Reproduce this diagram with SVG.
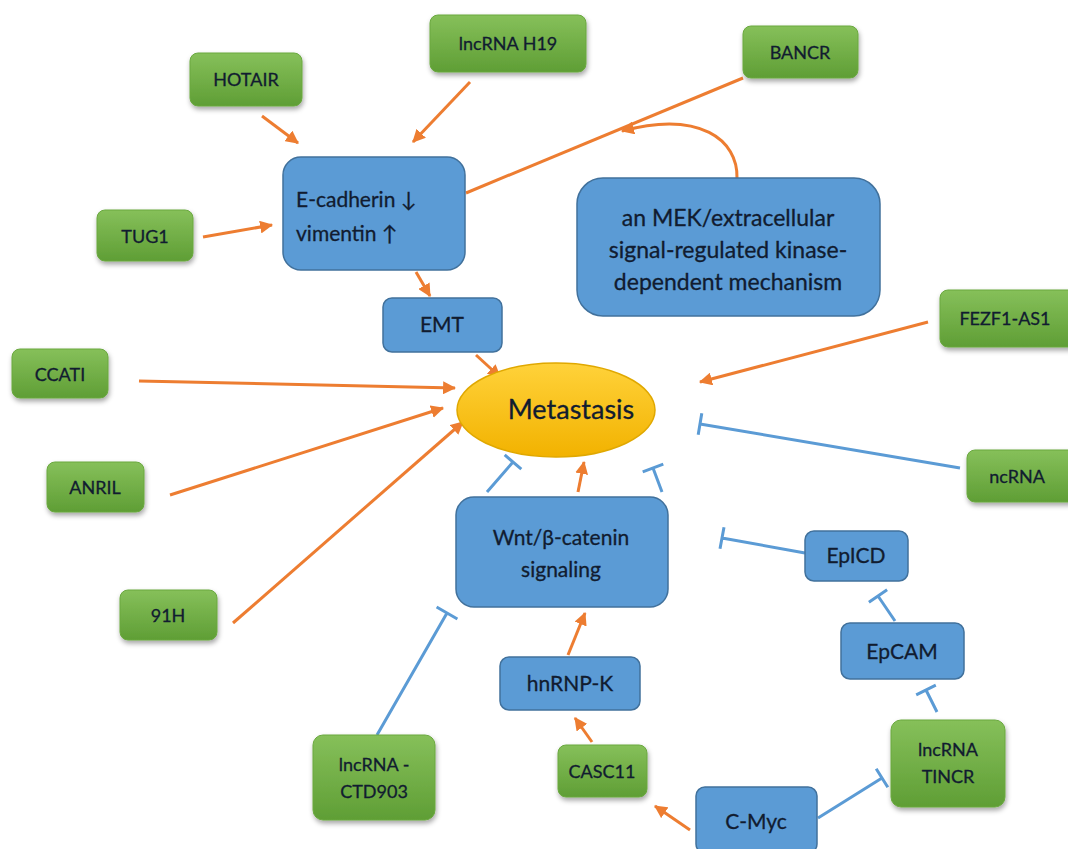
<svg xmlns="http://www.w3.org/2000/svg" width="1068" height="849" viewBox="0 0 1068 849">
<defs>
<linearGradient id="gG" x1="0" y1="0" x2="0" y2="1"><stop offset="0" stop-color="#86c05a"/><stop offset="1" stop-color="#5f9e35"/></linearGradient>
<linearGradient id="gY" x1="0" y1="0" x2="0" y2="1"><stop offset="0" stop-color="#ffd23a"/><stop offset="1" stop-color="#f2b200"/></linearGradient>
<filter id="sh" x="-20%" y="-20%" width="140%" height="150%"><feDropShadow dx="1" dy="3" stdDeviation="2.5" flood-color="#000" flood-opacity="0.35"/></filter>
<marker id="ar" viewBox="0 0 12 12" refX="11" refY="6" markerWidth="13" markerHeight="13" markerUnits="userSpaceOnUse" orient="auto"><path d="M0,0 L12,6 L0,12 z" fill="#ed7d31"/></marker>
<style>
.g{fill:url(#gG);stroke:#6aa83f;stroke-width:1;filter:url(#sh)}
.b{fill:#5b9bd5;stroke:#41719c;stroke-width:1.5}
.t{font-family:Lato,"Open Sans","Liberation Sans",sans-serif;fill:#111c30;text-anchor:middle;stroke:#111c30;stroke-width:0.3}
.tg{font-size:18px}
.tb{font-size:21px}
.tm{font-size:23px}
.o{stroke:#ed7d31;stroke-width:3;fill:none;marker-end:url(#ar)}
.ol{stroke:#ed7d31;stroke-width:3;fill:none}
.bl{stroke:#5b9bd5;stroke-width:3;fill:none}
</style>
</defs>
<rect width="1068" height="849" fill="#ffffff"/>
<g id="connectors">
<line class="o" x1="262" y1="116" x2="298" y2="143"/>
<line class="o" x1="470" y1="82" x2="413" y2="142"/>
<line class="o" x1="203" y1="237" x2="272" y2="225"/>
<line class="ol" x1="743" y1="78" x2="466" y2="193"/>
<path class="o" d="M737,178 C738,140 700,110 622,131"/>
<line class="o" x1="416" y1="272" x2="430" y2="296"/>
<line class="o" x1="476" y1="355" x2="500" y2="377"/>
<line class="o" x1="139" y1="381" x2="455" y2="388"/>
<line class="o" x1="170" y1="495" x2="443" y2="408"/>
<line class="o" x1="233" y1="623" x2="463" y2="422"/>
<line class="o" x1="928" y1="322" x2="700" y2="382"/>
<line class="o" x1="578" y1="492" x2="584" y2="462"/>
<line class="o" x1="568" y1="655" x2="585" y2="613"/>
<line class="o" x1="592" y1="742" x2="575" y2="718"/>
<line class="o" x1="690" y1="830" x2="655" y2="806"/>
<path class="bl" d="M960,468 L700,424 M701.8,413.2 L698.2,434.8"/>
<path class="bl" d="M487,492 L513,462 M504.7,454.8 L521.3,469.2"/>
<path class="bl" d="M662,492 L653,468 M642.7,471.9 L663.3,464.1"/>
<path class="bl" d="M805,553 L722,538 M724,527.2 L720,548.8"/>
<path class="bl" d="M895,621 L878,596 M887.1,589.8 L868.9,602.2"/>
<path class="bl" d="M937,712 L926,690 M935.8,685.1 L916.2,694.9"/>
<path class="bl" d="M818,818 L882,778 M887.8,787.3 L876.2,768.7"/>
<path class="bl" d="M377,735 L447,613 M457.4,619 L436.6,607"/>
</g>
<g id="HOTAIR"><rect class="g" x="190" y="53" width="112" height="53" rx="8"/><text class="t tg" x="246" y="86">HOTAIR</text></g>
<g id="lncRNA-H19"><rect class="g" x="430" y="15" width="156" height="57" rx="8"/><text class="t tg" x="508" y="50">lncRNA H19</text></g>
<g id="BANCR"><rect class="g" x="743" y="26" width="115" height="52" rx="8"/><text class="t tg" x="800" y="59">BANCR</text></g>
<g id="TUG1"><rect class="g" x="97" y="210" width="96" height="51" rx="8"/><text class="t tg" x="145" y="243">TUG1</text></g>
<g id="E-cadherin"><rect class="b" x="283" y="157" width="182" height="113" rx="18"/><text class="t tb" x="296" y="207" style="text-anchor:start">E-cadherin ↓</text><text class="t tb" x="296" y="241" style="text-anchor:start">vimentin ↑</text></g>
<g id="MEK"><rect class="b" x="577" y="178" width="303" height="138" rx="26"/><text class="t tm" x="728" y="226">an MEK/extracellular</text><text class="t tm" x="728" y="258">signal-regulated kinase-</text><text class="t tm" x="728" y="290">dependent mechanism</text></g>
<g id="FEZF1-AS1"><rect class="g" x="940" y="290" width="140" height="57" rx="8"/><text class="t tg" x="1005" y="325">FEZF1-AS1</text></g>
<g id="EMT"><rect class="b" x="383" y="298" width="119" height="54" rx="9"/><text class="t tb" x="442" y="332">EMT</text></g>
<g id="CCATI"><rect class="g" x="12" y="349" width="96" height="49" rx="8"/><text class="t tg" x="60" y="381">CCATI</text></g>
<g id="Metastasis"><ellipse cx="556" cy="410" rx="99" ry="47" fill="url(#gY)" stroke="#e0a800" stroke-width="1.5"/><text class="t" x="571" y="419" font-size="27">Metastasis</text></g>
<g id="ANRIL"><rect class="g" x="47" y="462" width="97" height="50" rx="8"/><text class="t tg" x="95" y="494">ANRIL</text></g>
<g id="ncRNA"><rect class="g" x="967" y="450" width="110" height="52" rx="8"/><text class="t tg" x="1017" y="483">ncRNA</text></g>
<g id="Wnt"><rect class="b" x="456" y="497" width="212" height="110" rx="18"/><text class="t tb" x="561" y="545">Wnt/β-catenin</text><text class="t tb" x="561" y="577">signaling</text></g>
<g id="EpICD"><rect class="b" x="805" y="531" width="103" height="50" rx="9"/><text class="t tb" x="856" y="563">EpICD</text></g>
<g id="91H"><rect class="g" x="120" y="590" width="97" height="50" rx="8"/><text class="t tg" x="168" y="622">91H</text></g>
<g id="EpCAM"><rect class="b" x="841" y="623" width="123" height="56" rx="9"/><text class="t tb" x="902" y="659">EpCAM</text></g>
<g id="hnRNP-K"><rect class="b" x="500" y="657" width="140" height="53" rx="9"/><text class="t tb" x="570" y="691">hnRNP-K</text></g>
<g id="lncRNA-CTD903"><rect class="g" x="313" y="735" width="122" height="85" rx="10"/><text class="t tg" x="374" y="771">lncRNA -</text><text class="t tg" x="374" y="798">CTD903</text></g>
<g id="CASC11"><rect class="g" x="558" y="745" width="89" height="52" rx="8"/><text class="t tg" x="602" y="778">CASC11</text></g>
<g id="lncRNA-TINCR"><rect class="g" x="891" y="720" width="114" height="87" rx="10"/><text class="t tg" x="948" y="756">lncRNA</text><text class="t tg" x="948" y="783">TINCR</text></g>
<g id="C-Myc"><rect class="b" x="696" y="787" width="121" height="66" rx="9"/><text class="t tb" x="756" y="829">C-Myc</text></g>
</svg>
